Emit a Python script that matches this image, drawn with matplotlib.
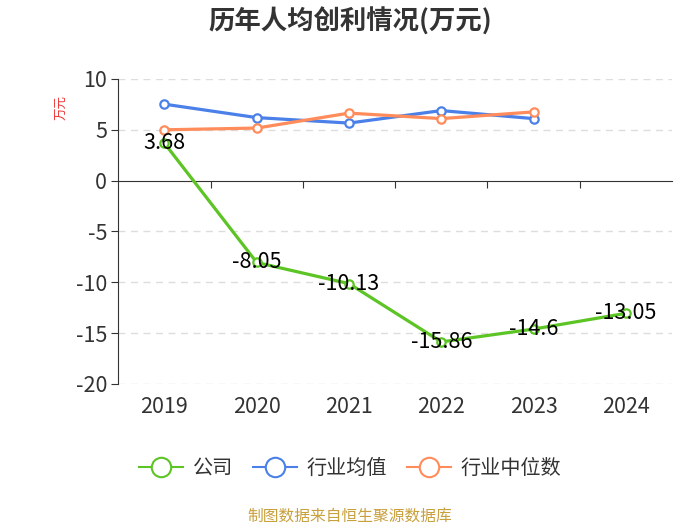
import matplotlib.pyplot as plt

plt.rcParams['font.family'] = ['Noto Sans CJK SC', 'DejaVu Sans']

years = ['2019', '2020', '2021', '2022', '2023', '2024']
gongsi = [3.68, -8.05, -10.13, -15.86, -14.6, -13.05]
hangye_junzhi = [7.52, 6.2, 5.66, 6.89, 6.1]
hangye_zhongwei = [5.0, 5.17, 6.64, 6.1, 6.76]

c_green = '#5cc424'
c_blue = '#4a80e8'
c_orange = '#ff8c5a'
c_text = '#333333'

fig = plt.figure(figsize=(7, 5.25), dpi=100)
ax = fig.add_axes([0.169, 0.2686, 0.791, 0.581])

x = list(range(len(years)))
mk = dict(marker='o', markersize=6, markerfacecolor='white', markeredgewidth=1.6)
ax.plot(x[:5], hangye_junzhi, color=c_blue, lw=2.3, zorder=3, markeredgecolor=c_blue, **mk)
ax.plot(x[:5], hangye_zhongwei, color=c_orange, lw=2.3, zorder=3, markeredgecolor=c_orange, **mk)
ax.plot(x, gongsi, color=c_green, lw=2.3, zorder=4, markeredgecolor=c_green, **mk)

# 数据标签居中压在点上
for xi, v in zip(x, gongsi):
    ax.text(xi, v, f'{v:g}', ha='center', va='center', fontsize=15.5, color='black', zorder=5)

ax.set_xlim(-0.5, len(years) - 0.5)
ax.set_ylim(-20, 10)
ax.set_yticks(range(-20, 11, 5))
ax.set_yticklabels([str(t) for t in range(-20, 11, 5)], fontsize=15.5, color=c_text)
for t in range(-20, 11, 5):
    if t != 0:
        ax.axhline(t, color='#dddddd', lw=1, ls=(0, (5, 4)), zorder=1)

for s in ['top', 'right']:
    ax.spines[s].set_visible(False)
ax.spines['left'].set_color(c_text)
ax.spines['bottom'].set_color(c_text)
ax.spines['bottom'].set_position(('data', 0))
ax.tick_params(axis='y', length=5, color=c_text, pad=3)
ax.set_xticks([i + 0.5 for i in x[:-1]])
ax.set_xticklabels([])
ax.tick_params(axis='x', length=5, color=c_text, direction='out')
for xi, lab in zip(x, years):
    ax.text(xi, -0.076, lab, transform=ax.get_xaxis_transform(), ha='center', va='center',
            fontsize=15.5, color=c_text)

fig.text(0.089, 0.795, '万元', rotation=90, color='#ee3333', fontsize=9, ha='center', va='center')
fig.text(0.5, 0.958, '历年人均创利情况(万元)', ha='center', va='center', fontsize=19,
         fontweight='bold', color=c_text)

handles = [
    plt.Line2D([], [], color=c, lw=1.5, marker='o', markersize=14, markerfacecolor='white',
               markeredgecolor=c, markeredgewidth=1.5)
    for c in (c_green, c_blue, c_orange)
]
fig.legend(handles, ['公司', '行业均值', '行业中位数'], loc='center', bbox_to_anchor=(0.5, 0.108),
           ncol=3, frameon=False, fontsize=14.5, handlelength=2.2, columnspacing=1.0,
           handletextpad=0.45, labelcolor=c_text)

fig.text(0.5, 0.016, '制图数据来自恒生聚源数据库', ha='center', va='center', fontsize=11.3,
         color='#c8a03c')

fig.savefig('out.png', dpi=100)
